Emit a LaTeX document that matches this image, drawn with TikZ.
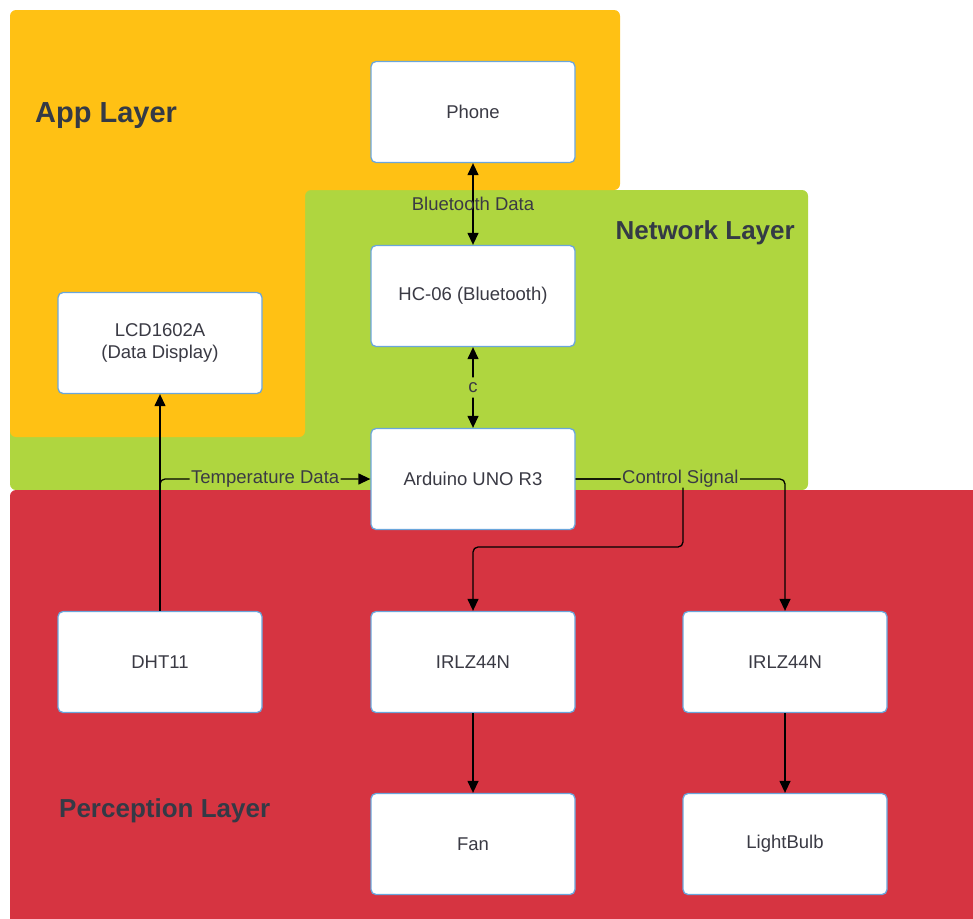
\documentclass[tikz,border=0pt]{standalone}
\usepackage{fontspec}
\setmainfont{Liberation Sans}
\usetikzlibrary{arrows.meta,positioning}
\definecolor{apporange}{HTML}{FFC114}
\definecolor{netgreen}{HTML}{AFD63F}
\definecolor{percred}{HTML}{D63441}
\definecolor{boxblue}{HTML}{6AA6DC}
\definecolor{txtgray}{HTML}{3A3A44}
\definecolor{titlegray}{HTML}{343A46}
\tikzset{
  devbox/.style={rectangle, rounded corners=5pt, draw=boxblue, line width=1.3pt,
    fill=white, minimum width=204pt, minimum height=101pt, inner sep=0pt,
    align=center, text=txtgray, font=\fontsize{18.5}{22}\selectfont},
  conn/.style={draw=black, line width=1.3pt, rounded corners=5pt},
  tip/.style={-{Triangle[length=12pt,width=11pt]}},
  bitip/.style={{Triangle[length=12pt,width=11pt]}-{Triangle[length=12pt,width=11pt]}},
  lbl/.style={text=txtgray, font=\fontsize{18.5}{22}\selectfont, inner sep=0pt},
  lblfill/.style={lbl, fill=netgreen, inner xsep=1.5pt, inner ysep=0pt},
  layertitle/.style={text=titlegray, font=\bfseries\fontsize{26}{30}\selectfont, inner sep=0pt}
}
\begin{document}
\begin{tikzpicture}[x=1pt,y=-1pt]
\useasboundingbox (0,0) rectangle (973,918);
% layers
\fill[netgreen, rounded corners=6pt] (10,190) rectangle (808,490);
\fill[apporange, rounded corners=6pt] (10,10) -- (620,10) -- (620,190) -- (305,190) -- (305,437) -- (10,437) -- cycle;
\fill[percred, rounded corners=6pt] (10,490) rectangle (990,940);
% layer titles
\node[layertitle, anchor=base west, font=\bfseries\fontsize{29}{33}\selectfont] (tapp) at (35,122) {App Layer};
\node[layertitle, anchor=base east] (tnet) at (795,239) {Network Layer};
\node[layertitle, anchor=base west] (tper) at (59,817) {Perception Layer};
% devices
\node[devbox] (phone) at (473,112) {Phone};
\node[devbox] (hc) at (473,296) {HC-06 (Bluetooth)};
\node[devbox] (lcd) at (160,343) {LCD1602A\\(Data Display)};
\node[devbox] (ard) at (473,479) {Arduino UNO R3};
\node[devbox] (dht) at (160,662) {DHT11};
\node[devbox] (irl) at (473,662) {IRLZ44N};
\node[devbox] (irr) at (785,662) {IRLZ44N};
\node[devbox] (fan) at (473,844) {Fan};
\node[devbox] (bulb) at (785,844) {LightBulb};
% helper coordinates
\coordinate (cs1) at (683,479);
\coordinate (cs2) at (683,547);
\coordinate (cs3) at (473,547);
% connectors
\draw[conn, bitip] (phone.south) -- node[lbl] {Bluetooth Data} (hc.north);
\draw[conn, bitip] (hc.south) -- node[lblfill, inner ysep=5pt] {c} (ard.north);
\draw[conn, tip] (dht.north) -- (lcd.south);
\draw[conn, tip] (dht.north) |- node[lblfill, pos=0.75] {Temperature Data} (ard.west);
\draw[conn, tip] (ard.east) -- (cs1) -- (cs2) -- (cs3) -- (irl.north);
\draw[conn, tip] (ard.east) -| node[lblfill, pos=0.25] {Control Signal} (irr.north);
\draw[conn, tip] (irl.south) -- (fan.north);
\draw[conn, tip] (irr.south) -- (bulb.north);
\end{tikzpicture}
\end{document}
